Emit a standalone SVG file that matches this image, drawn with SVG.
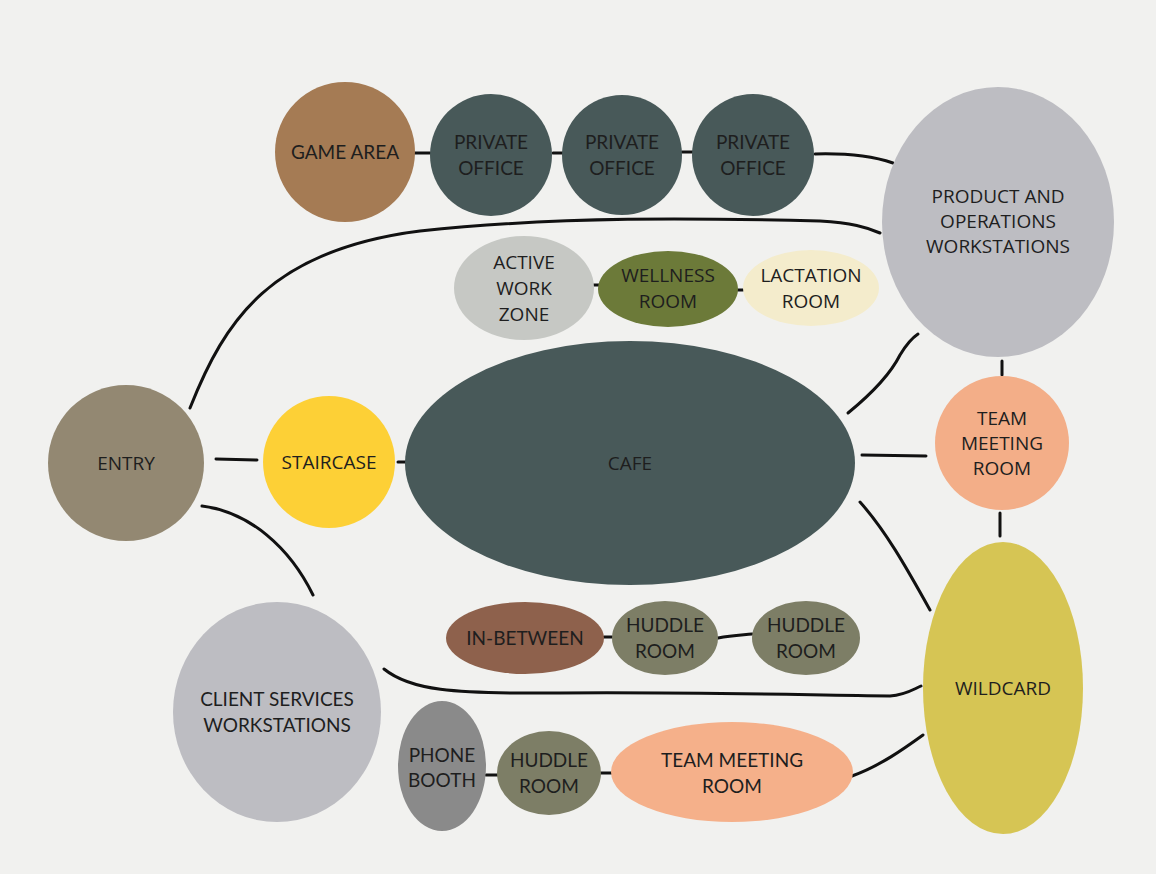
<svg xmlns="http://www.w3.org/2000/svg" width="1156" height="874" viewBox="0 0 1156 874">
<style>
.w{font-family:"Open Sans","Liberation Sans",sans-serif;font-size:19px;fill:#1e1e1e;text-anchor:middle}
.n{font-family:Lato,"Liberation Sans",sans-serif;font-size:19px;fill:#1e1e1e;text-anchor:middle}
.c{fill:none;stroke:#111;stroke-width:3;stroke-linecap:round}
</style>
<rect width="1156" height="874" fill="#f1f1ef"/>
<g id="connectors">
<path class="c" d="M414,153 L430,153"/>
<path class="c" d="M553,153 L563,153"/>
<path class="c" d="M682,152 L693,152"/>
<path class="c" d="M815,154 C850,153 872,156 893,163"/>
<path class="c" d="M190,408 C225,320 270,250 420,231 C560,216 700,218 820,221 C852,223 866,227 880,233"/>
<path class="c" d="M216,459 L257,460"/>
<path class="c" d="M398,462 L408,462"/>
<path class="c" d="M202,506 C250,512 290,548 313,595"/>
<path class="c" d="M848,413 C870,395 890,375 900,355 C906,345 912,338 918,334"/>
<path class="c" d="M862,455 L926,456"/>
<path class="c" d="M1002,361 L1002,375"/>
<path class="c" d="M1000,513 L1000,536"/>
<path class="c" d="M860,502 C885,530 905,565 930,610"/>
<path class="c" d="M384,669 C410,690 450,694 560,693 C700,692 800,695 890,696 C905,695 912,690 921,686"/>
<path class="c" d="M852,776 C880,766 905,748 923,735"/>
<path class="c" d="M604,637 L612,637"/>
<path class="c" d="M718,638 C732,635 742,635 752,634"/>
<path class="c" d="M486,775 L500,775"/>
<path class="c" d="M601,773 L612,773"/>
<path class="c" d="M592,285 L600,285"/>
<path class="c" d="M738,290 L746,290"/>
</g>
<g id="game-area"><ellipse cx="345" cy="152" rx="70" ry="70" fill="#a57b54"/><text class="n" x="345" y="159">GAME AREA</text></g>
<g id="private-office-1"><circle cx="491" cy="155" r="61" fill="#485959"/><text class="n" x="491" y="149">PRIVATE</text><text class="n" x="491" y="175">OFFICE</text></g>
<g id="private-office-2"><circle cx="622" cy="155" r="60" fill="#485959"/><text class="n" x="622" y="149">PRIVATE</text><text class="n" x="622" y="175">OFFICE</text></g>
<g id="private-office-3"><circle cx="753" cy="155" r="61" fill="#485959"/><text class="n" x="753" y="149">PRIVATE</text><text class="n" x="753" y="175">OFFICE</text></g>
<g id="product-ops"><ellipse cx="998" cy="222" rx="116" ry="135" fill="#bdbdc2"/><text class="w" x="998" y="203">PRODUCT AND</text><text class="w" x="998" y="228">OPERATIONS</text><text class="w" x="998" y="253">WORKSTATIONS</text></g>
<g id="active-work-zone"><ellipse cx="524" cy="288" rx="70" ry="52" fill="#c6c8c4"/><text class="w" x="524" y="269">ACTIVE</text><text class="w" x="524" y="295">WORK</text><text class="w" x="524" y="321">ZONE</text></g>
<g id="wellness-room"><ellipse cx="668" cy="289" rx="70" ry="38" fill="#6c7a39"/><text class="w" x="668" y="282">WELLNESS</text><text class="w" x="668" y="308">ROOM</text></g>
<g id="lactation-room"><ellipse cx="811" cy="288" rx="68" ry="38" fill="#f4eccc"/><text class="w" x="811" y="282">LACTATION</text><text class="w" x="811" y="308">ROOM</text></g>
<g id="entry"><circle cx="126" cy="463" r="78" fill="#938872"/><text class="w" x="126" y="470">ENTRY</text></g>
<g id="staircase"><circle cx="329" cy="462" r="66" fill="#fdd036"/><text class="w" x="329" y="469">STAIRCASE</text></g>
<g id="cafe"><ellipse cx="630" cy="463" rx="225" ry="122" fill="#485959"/><text class="w" x="630" y="470">CAFE</text></g>
<g id="team-meeting-room-1"><circle cx="1002" cy="443" r="67" fill="#f3ae88"/><text class="w" x="1002" y="425">TEAM</text><text class="w" x="1002" y="450">MEETING</text><text class="w" x="1002" y="475">ROOM</text></g>
<g id="wildcard"><ellipse cx="1003" cy="688" rx="80" ry="146" fill="#d6c554"/><text class="w" x="1003" y="695">WILDCARD</text></g>
<g id="in-between"><ellipse cx="525" cy="638" rx="79" ry="36" fill="#8e614c"/><text class="n" x="525" y="645">IN-BETWEEN</text></g>
<g id="huddle-room-1"><ellipse cx="665" cy="638" rx="53" ry="37" fill="#7d7e66"/><text class="n" x="665" y="632">HUDDLE</text><text class="n" x="665" y="658">ROOM</text></g>
<g id="huddle-room-2"><ellipse cx="806" cy="638" rx="54" ry="37" fill="#7d7e66"/><text class="n" x="806" y="632">HUDDLE</text><text class="n" x="806" y="658">ROOM</text></g>
<g id="client-services"><ellipse cx="277" cy="712" rx="104" ry="110" fill="#bdbdc2"/><text class="n" x="277" y="706">CLIENT SERVICES</text><text class="n" x="277" y="732">WORKSTATIONS</text></g>
<g id="phone-booth"><ellipse cx="442" cy="766" rx="44" ry="65" fill="#8a8a8a"/><text class="n" x="442" y="762">PHONE</text><text class="n" x="442" y="787">BOOTH</text></g>
<g id="huddle-room-3"><ellipse cx="549" cy="773" rx="52" ry="42" fill="#7d7e66"/><text class="n" x="549" y="767">HUDDLE</text><text class="n" x="549" y="793">ROOM</text></g>
<g id="team-meeting-room-2"><ellipse cx="732" cy="772" rx="121" ry="50" fill="#f5b08a"/><text class="n" x="732" y="767">TEAM MEETING</text><text class="n" x="732" y="793">ROOM</text></g>
</svg>
